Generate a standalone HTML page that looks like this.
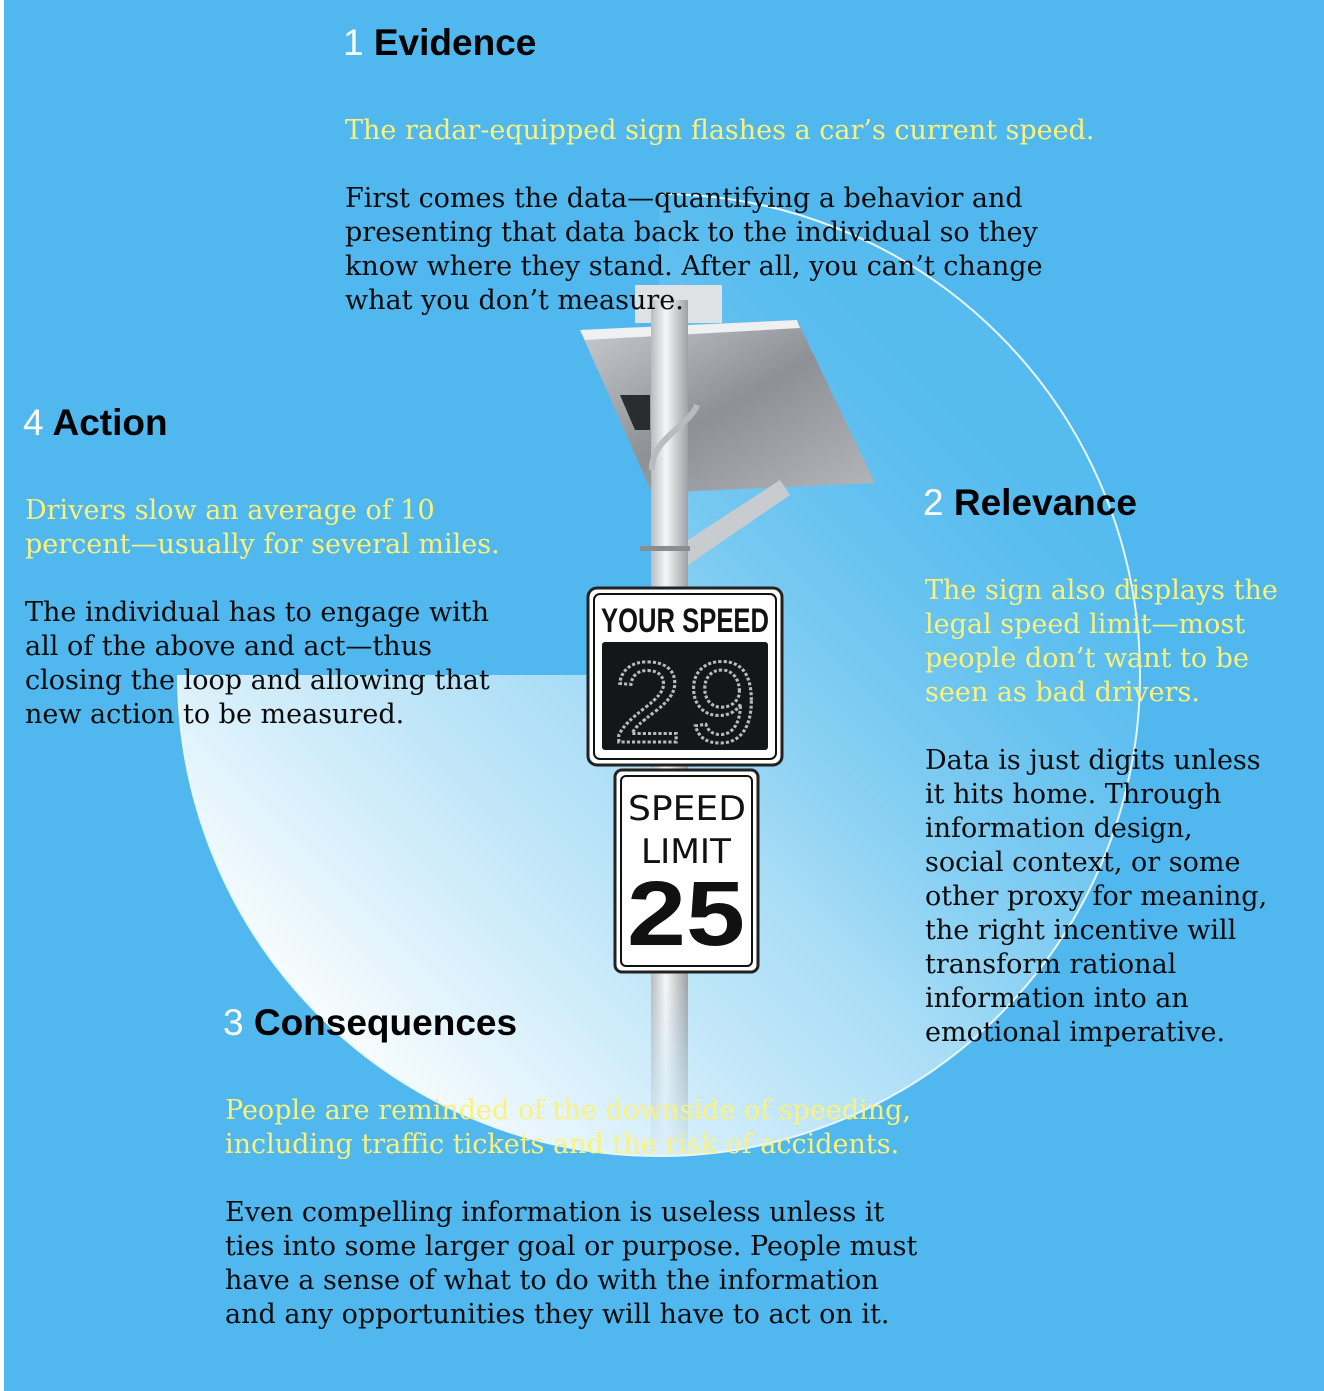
<!DOCTYPE html>
<html><head><meta charset="utf-8"><style>
html,body{margin:0;padding:0;background:#fff;}
svg{display:block;}
.h{font-family:"Liberation Sans",sans-serif;font-weight:bold;font-size:37px;fill:#000;}
.n{font-weight:normal;fill:#fff;}
.y{font-family:"DejaVu Serif","Liberation Serif",serif;font-size:27px;fill:#fbf27a;}
.b{font-family:"DejaVu Serif","Liberation Serif",serif;font-size:27px;fill:#0a0a0a;}
</style></head><body>
<svg width="1324" height="1391" viewBox="0 0 1324 1391" xmlns="http://www.w3.org/2000/svg">
<defs>
<linearGradient id="cg" x1="0" y1="1" x2="1" y2="0">
<stop offset="0.12" stop-color="#ffffff" stop-opacity="1"/>
<stop offset="0.45" stop-color="#bfe6f8" stop-opacity="0.8"/>
<stop offset="0.8" stop-color="#6cc6f0" stop-opacity="0.2"/>
</linearGradient>
<linearGradient id="pole" x1="0" x2="1">
<stop offset="0" stop-color="#b9bcbf"/><stop offset="0.4" stop-color="#f4f5f6"/><stop offset="1" stop-color="#9ea2a6"/>
</linearGradient>
<linearGradient id="pfade" x1="0" y1="0" x2="0" y2="1">
<stop offset="0" stop-color="#fff" stop-opacity="1"/><stop offset="0.8" stop-color="#fff" stop-opacity="1"/><stop offset="1" stop-color="#fff" stop-opacity="0"/>
</linearGradient>
<mask id="pm"><rect x="640" y="280" width="60" height="880" fill="url(#pfade)"/></mask>
<linearGradient id="panel" x1="0" y1="0" x2="1" y2="1">
<stop offset="0" stop-color="#c9ccd0"/><stop offset="0.5" stop-color="#8d9196"/><stop offset="1" stop-color="#b3b6ba"/>
</linearGradient>
</defs>
<rect x="4" y="0" width="1320" height="1391" fill="#50b8ee"/>
<path d="M659,675 L178,675 A481,481 0 1 0 659,194 Z" fill="url(#cg)"/>
<path d="M659,194 A481,481 0 1 1 178,675" fill="none" stroke="#e8f6fd" stroke-width="2"/>
<polygon points="580,330 797,320 875,483 652,493" fill="url(#panel)"/>
<polygon points="580,330 797,320 800,328 585,340" fill="#eef0f2"/>
<polygon points="620,395 650,395 650,430 635,430" fill="#2a2d30"/>
<rect x="635" y="285" width="87" height="38" fill="#dfe2e5"/>
<polygon points="688,540 780,480 790,495 688,565" fill="#c8cbcf"/>
<rect x="651" y="300" width="37" height="860" fill="url(#pole)" mask="url(#pm)"/>
<path d="M697,405 C690,425 650,440 652,470" stroke="#b8bcc0" stroke-width="6" fill="none"/>
<rect x="640" y="546" width="50" height="5" fill="#8a8d90"/>
<rect x="588" y="588" width="194" height="177" rx="9" fill="#fff" stroke="#222" stroke-width="3"/>
<rect x="594" y="594" width="182" height="165" rx="6" fill="none" stroke="#111" stroke-width="2"/>
<text x="685" y="632" text-anchor="middle" font-family="Liberation Sans,sans-serif" font-weight="bold" font-size="34" textLength="168" lengthAdjust="spacingAndGlyphs" fill="#111">YOUR SPEED</text>
<rect x="602" y="642" width="166" height="108" rx="3" fill="#151617"/>
<text x="685" y="742" text-anchor="middle" font-family="Liberation Mono,monospace" font-size="120" textLength="150" lengthAdjust="spacingAndGlyphs" fill="none" stroke="#b8bbbe" stroke-width="3" stroke-dasharray="3 2">29</text>
<rect x="615" y="770" width="143" height="202" rx="7" fill="#fff" stroke="#222" stroke-width="3"/>
<rect x="621" y="776" width="131" height="190" rx="5" fill="none" stroke="#111" stroke-width="2"/>
<text x="687" y="820" text-anchor="middle" font-family="DejaVu Sans,sans-serif" font-size="34" textLength="118" lengthAdjust="spacingAndGlyphs" fill="#111">SPEED</text>
<text x="686" y="863" text-anchor="middle" font-family="DejaVu Sans,sans-serif" font-size="34" textLength="90" lengthAdjust="spacingAndGlyphs" fill="#111">LIMIT</text>
<text x="686" y="945" text-anchor="middle" font-family="Liberation Sans,sans-serif" font-weight="bold" font-size="92" textLength="118" lengthAdjust="spacingAndGlyphs" fill="#111">25</text>
<text class="h" x="343" y="55"><tspan class="n">1</tspan> Evidence</text>
<text class="y" x="345" y="139">The radar-equipped sign flashes a car’s current speed.</text>
<text class="b" x="345" y="207">First comes the data—quantifying a behavior and</text>
<text class="b" x="345" y="241">presenting that data back to the individual so they</text>
<text class="b" x="345" y="275">know where they stand. After all, you can’t change</text>
<text class="b" x="345" y="309">what you don’t measure.</text>
<text class="h" x="23" y="435"><tspan class="n">4</tspan> Action</text>
<text class="y" x="25" y="519">Drivers slow an average of 10</text>
<text class="y" x="25" y="553">percent—usually for several miles.</text>
<text class="b" x="25" y="621">The individual has to engage with</text>
<text class="b" x="25" y="655">all of the above and act—thus</text>
<text class="b" x="25" y="689">closing the loop and allowing that</text>
<text class="b" x="25" y="723">new action to be measured.</text>
<text class="h" x="923" y="515"><tspan class="n">2</tspan> Relevance</text>
<text class="y" x="925" y="599">The sign also displays the</text>
<text class="y" x="925" y="633">legal speed limit—most</text>
<text class="y" x="925" y="667">people don’t want to be</text>
<text class="y" x="925" y="701">seen as bad drivers.</text>
<text class="b" x="925" y="769">Data is just digits unless</text>
<text class="b" x="925" y="803">it hits home. Through</text>
<text class="b" x="925" y="837">information design,</text>
<text class="b" x="925" y="871">social context, or some</text>
<text class="b" x="925" y="905">other proxy for meaning,</text>
<text class="b" x="925" y="939">the right incentive will</text>
<text class="b" x="925" y="973">transform rational</text>
<text class="b" x="925" y="1007">information into an</text>
<text class="b" x="925" y="1041">emotional imperative.</text>
<text class="h" x="223" y="1035"><tspan class="n">3</tspan> Consequences</text>
<text class="y" x="225" y="1119">People are reminded of the downside of speeding,</text>
<text class="y" x="225" y="1153">including traffic tickets and the risk of accidents.</text>
<text class="b" x="225" y="1221">Even compelling information is useless unless it</text>
<text class="b" x="225" y="1255">ties into some larger goal or purpose. People must</text>
<text class="b" x="225" y="1289">have a sense of what to do with the information</text>
<text class="b" x="225" y="1323">and any opportunities they will have to act on it.</text>
</svg>
</body></html>
